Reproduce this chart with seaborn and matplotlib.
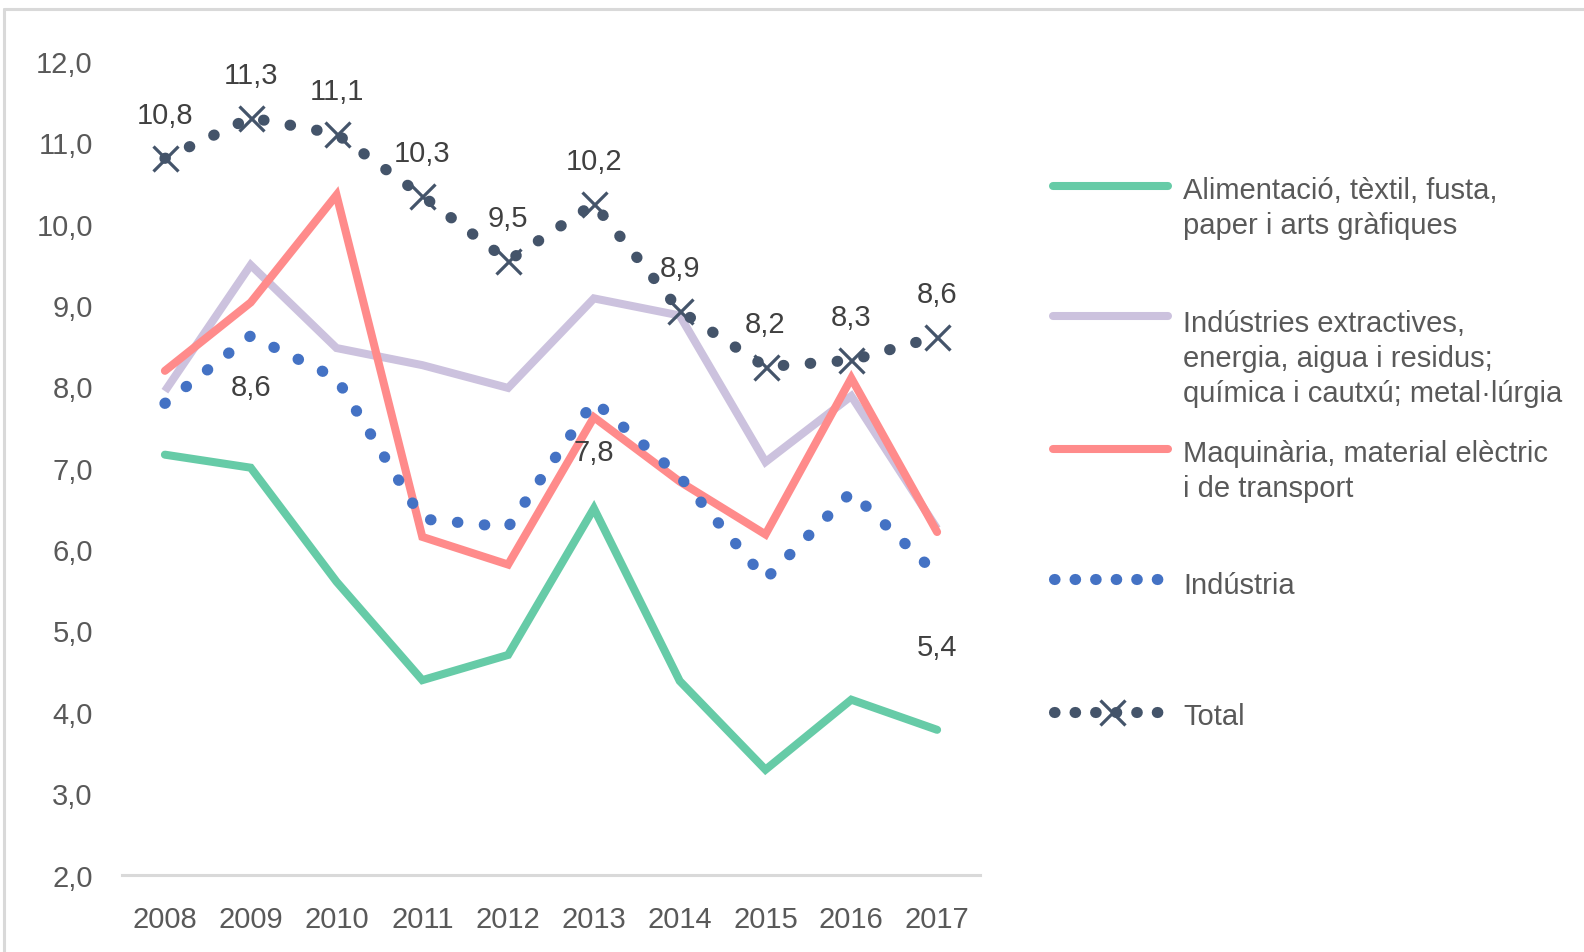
import matplotlib
matplotlib.use("Agg")
import matplotlib.pyplot as plt
import seaborn as sns
from matplotlib.lines import Line2D

# ── Data ──────────────────────────────────────────────────────────────────────
years = ["2008", "2009", "2010", "2011", "2012", "2013", "2014", "2015", "2016", "2017"]

alimentacio = [7.16, 7.00, 5.60, 4.39, 4.70, 6.50, 4.38, 3.29, 4.15, 3.78]
extractives = [7.94, 9.49, 8.47, 8.26, 7.98, 9.08, 8.87, 7.07, 7.88, 6.25]
maquinaria  = [8.19, 9.03, 10.35, 6.15, 5.81, 7.62, 6.83, 6.18, 8.10, 6.21]
industria   = [7.79, 8.62, 8.10, 6.37, 6.27, 7.82, 6.89, 5.63, 6.70, 5.69]
total       = [10.8, 11.3, 11.1, 10.34, 9.54, 10.24, 8.93, 8.24, 8.32, 8.61]

industria_labels = {"2009": "8,6", "2013": "7,8", "2017": "5,4"}

series_names = [
    "Alimentació, tèxtil, fusta,\npaper i arts gràfiques",
    "Indústries extractives,\nenergia, aigua i residus;\nquímica i cautxú; metal·lúrgia",
    "Maquinària, material elèctric\ni de transport",
    "Indústria",
    "Total",
]

C_GREEN = "#66CBA7"
C_LILAC = "#CCC2DE"
C_RED   = "#FF8B8B"
C_BLUE  = "#4472C4"
C_NAVY  = "#44546A"
C_TEXT  = "#595959"
C_LABEL = "#404040"

sns.set_theme(style="white")
plt.rcParams["font.family"] = ["Liberation Sans", "DejaVu Sans"]

FS = 21
W, H = 1584, 953
fig = plt.figure(figsize=(W / 100, H / 100), dpi=100)
fig.patch.set_facecolor("white")
ax = fig.add_axes([122 / W, 1 - 875.7 / H, (980 - 122) / W, (875.7 - 61.7) / H])
ax.set_facecolor("none")

LW = 5.8      # solid series width (pt)
DOT = 8.0     # dot diameter (pt)
DOTS = (0, (0.05, 2.38))

sns.lineplot(x=years, y=alimentacio, ax=ax, color=C_GREEN, linewidth=LW,
             solid_capstyle="round", solid_joinstyle="miter", zorder=2)
sns.lineplot(x=years, y=extractives, ax=ax, color=C_LILAC, linewidth=LW,
             solid_capstyle="butt", solid_joinstyle="miter", zorder=2)
sns.lineplot(x=years, y=maquinaria, ax=ax, color=C_RED, linewidth=LW,
             solid_capstyle="round", solid_joinstyle="miter", zorder=3)
sns.lineplot(x=years, y=industria, ax=ax, color=C_BLUE, linewidth=DOT,
             linestyle=DOTS, dash_capstyle="round", zorder=4)
sns.lineplot(x=years, y=total, ax=ax, color=C_NAVY, linewidth=DOT,
             linestyle=DOTS, dash_capstyle="round", zorder=5,
             marker="x", markersize=18, markeredgewidth=2.3,
             markeredgecolor=C_NAVY)

# data labels
for yr, v in zip(years, total):
    ax.annotate(f"{v:.1f}".replace(".", ","), (yr, v), xytext=(0, 31),
                textcoords="offset points", ha="center", va="center",
                fontsize=FS, color=C_LABEL, zorder=6)
for yr, v in zip(years, industria):
    if yr in industria_labels:
        off = -52 if yr == "2017" else -37
        ax.annotate(industria_labels[yr], (yr, v), xytext=(0, off),
                    textcoords="offset points", ha="center", va="center",
                    fontsize=FS, color=C_LABEL, zorder=6)

# axes styling
ax.set_xlim(-0.5, len(years) - 0.5)
ax.set_ylim(2, 12)
ax.set_yticks(range(2, 13))
ax.set_yticklabels([f"{t},0" for t in range(2, 13)])
ax.tick_params(axis="y", length=0, pad=21, labelsize=FS, labelcolor=C_TEXT)
ax.tick_params(axis="x", length=0, pad=22, labelsize=FS, labelcolor=C_TEXT)
for side in ["top", "right", "left"]:
    ax.spines[side].set_visible(False)
ax.spines["bottom"].set_color("#D9D9D9")
ax.spines["bottom"].set_linewidth(2.2)
ax.grid(False)
ax.set_xlabel("")
ax.set_ylabel("")

# ── Legend (drawn by hand to keep Excel-like spacing) ────────────────────────
lax = fig.add_axes([0, 0, 1, 1])
lax.set_xlim(0, W)
lax.set_ylim(H, 0)
lax.axis("off")
lax.patch.set_alpha(0)

hx0, hx1, tx = 1053, 1168, 1183
handle_y = [187, 317, 450, 580, 713]
text_base = [199, 332, 462, 594, 725]   # baseline of the first text line
PITCH = 35
LEG_DOTS = (0, (0.05, 1.8))
lax.plot([hx0, hx1], [handle_y[0]] * 2, color=C_GREEN, lw=LW, solid_capstyle="round")
lax.plot([hx0, hx1], [handle_y[1]] * 2, color=C_LILAC, lw=LW, solid_capstyle="round")
lax.plot([hx0, hx1], [handle_y[2]] * 2, color=C_RED, lw=LW, solid_capstyle="round")
lax.plot([1054, 1158], [handle_y[3]] * 2, color=C_BLUE, lw=DOT,
         linestyle=LEG_DOTS, dash_capstyle="round")
lax.plot([1054, 1112, 1158], [handle_y[4]] * 3, color=C_NAVY, lw=DOT,
         linestyle=LEG_DOTS, dash_capstyle="round",
         marker="x", markevery=[1], markersize=18, markeredgewidth=2.3)
for name, ty in zip(series_names, text_base):
    for i, line in enumerate(name.split("\n")):
        lax.text(tx, ty + i * PITCH, line, ha="left", va="baseline",
                 fontsize=FS, color=C_TEXT)

# outer frame (top and left edges only, as in the source)
fig.add_artist(Line2D([4 / W, 1], [1 - 10 / H] * 2, color="#D9D9D9", lw=2.2))
fig.add_artist(Line2D([4 / W] * 2, [0, 1 - 10 / H], color="#D9D9D9", lw=2.2))

fig.savefig("out.png", dpi=100, facecolor="white")
plt.close(fig)
